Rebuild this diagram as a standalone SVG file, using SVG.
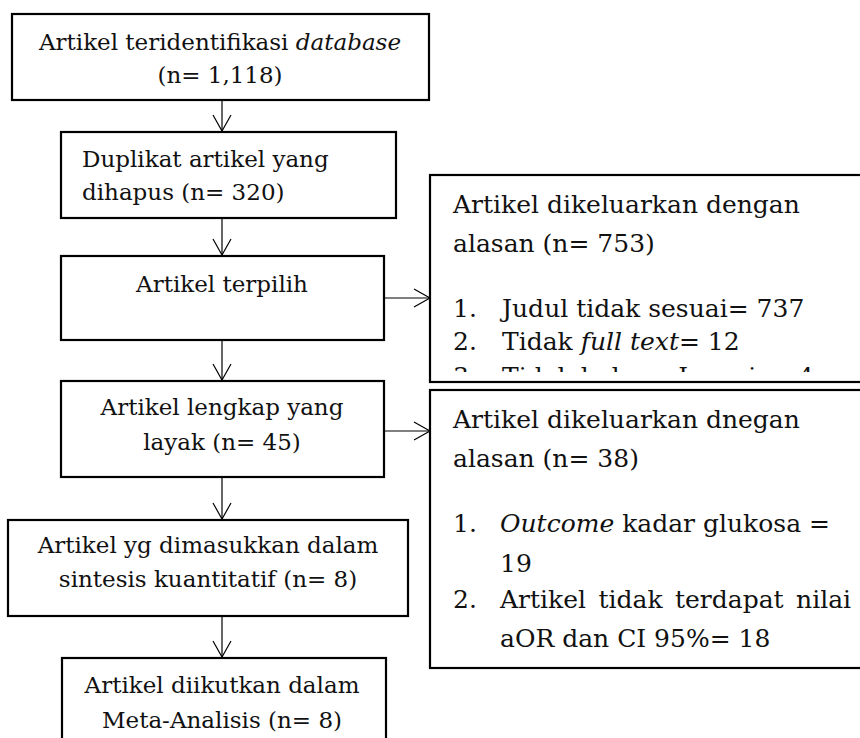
<svg xmlns="http://www.w3.org/2000/svg" width="860" height="738" viewBox="0 0 860 738">
<style>
.box{fill:#fff;stroke:#000;stroke-width:2.2}
.t{font-family:"DejaVu Serif","Liberation Serif",serif;font-size:23px;fill:#111}
.r{font-family:"DejaVu Serif","Liberation Serif",serif;font-size:25px;fill:#111}
.c{text-anchor:middle}
.i{font-style:italic}
.ln{stroke:#000;stroke-width:1.2;fill:none;marker-end:url(#ah)}
</style>
<defs>
<marker id="ah" markerUnits="userSpaceOnUse" markerWidth="20" markerHeight="22" refX="17" refY="10" orient="auto" overflow="visible">
<path d="M1,1 L17,10 L1,19" fill="none" stroke="#000" stroke-width="1.2"/>
</marker>
<clipPath id="clip1"><rect x="430" y="175" width="440" height="197"/></clipPath>
</defs>
<rect width="860" height="738" fill="#fff"/>

<g id="connectors">
<path class="ln" d="M222,90 V131"/>
<path class="ln" d="M222,213 V255"/>
<path class="ln" d="M222,336 V380"/>
<path class="ln" d="M222,473 V519"/>
<path class="ln" d="M222,612 V657"/>
<path class="ln" d="M384,298 H430"/>
<path class="ln" d="M384,431 H430"/>
</g>

<g id="n1">
<rect class="box" x="12" y="14" width="417" height="86"/>
<text class="t c" x="220" y="50">Artikel teridentifikasi <tspan class="i">database</tspan></text>
<text class="t c" x="220" y="83">(n= 1,118)</text>
</g>

<g id="n2">
<rect class="box" x="61" y="132" width="335" height="86"/>
<text class="t" x="82" y="167">Duplikat artikel yang</text>
<text class="t" x="82" y="200">dihapus (n= 320)</text>
</g>

<g id="n3">
<rect class="box" x="61" y="256" width="323" height="84"/>
<text class="t c" x="222" y="292">Artikel terpilih</text>
</g>

<g id="n4">
<rect class="box" x="61" y="381" width="323" height="96"/>
<text class="t c" x="222" y="415">Artikel lengkap yang</text>
<text class="t c" x="222" y="450">layak (n= 45)</text>
</g>

<g id="n5">
<rect class="box" x="8" y="520" width="400" height="96"/>
<text class="t c" x="208" y="553">Artikel yg dimasukkan dalam</text>
<text class="t c" x="208" y="587">sintesis kuantitatif (n= 8)</text>
</g>

<g id="n6">
<rect class="box" x="62" y="658" width="324" height="100"/>
<text class="t c" x="222" y="693">Artikel diikutkan dalam</text>
<text class="t c" x="222" y="728">Meta-Analisis (n= 8)</text>
</g>

<g id="n7">
<rect class="box" x="430" y="175" width="440" height="207"/>
<g clip-path="url(#clip1)">
<text class="r" x="453" y="213">Artikel dikeluarkan dengan</text>
<text class="r" x="453" y="252">alasan (n= 753)</text>
<text class="r" x="453" y="317">1.</text>
<text class="r" x="502" y="317">Judul tidak sesuai= 737</text>
<text class="r" x="453" y="350">2.</text>
<text class="r" x="502" y="350">Tidak <tspan class="i">full text</tspan>= 12</text>
<text class="r" x="453" y="385">3.</text>
<text class="r" x="502" y="385">Tidak bahasa Inggris= 4</text>
</g>
</g>

<g id="n8">
<rect class="box" x="430" y="390" width="440" height="278"/>
<text class="r" x="453" y="428">Artikel dikeluarkan dnegan</text>
<text class="r" x="453" y="467">alasan (n= 38)</text>
<text class="r" x="453" y="532">1.</text>
<text class="r" x="500" y="532"><tspan class="i">Outcome</tspan> kadar glukosa =</text>
<text class="r" x="500" y="572">19</text>
<text class="r" x="453" y="608">2.</text>
<text class="r" x="500" y="608" word-spacing="4.5">Artikel tidak terdapat nilai</text>
<text class="r" x="500" y="647">aOR dan CI 95%= 18</text>
</g>
</svg>
